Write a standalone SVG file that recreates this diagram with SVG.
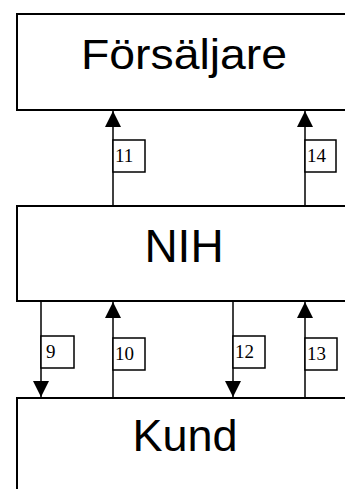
<svg xmlns="http://www.w3.org/2000/svg" width="345" height="489" viewBox="0 0 345 489">
<defs>
<style>
.box{fill:#fff;stroke:#000;stroke-width:2}
.title{font-family:"Liberation Sans",Arial,sans-serif;text-anchor:middle;fill:#000}
.conn{stroke:#000;stroke-width:1.5;fill:none}
.lbl{fill:#fff;stroke:#000;stroke-width:1.5}
.num{font-family:"Liberation Serif","Times New Roman",serif;font-size:19px;fill:#000}
</style>
<marker id="ah" markerWidth="16" markerHeight="16" refX="16" refY="8" orient="auto" markerUnits="userSpaceOnUse" viewBox="0 0 16 16">
<path d="M0,0 L16,8 L0,16 Z" fill="#000"/>
</marker>
</defs>
<rect width="345" height="489" fill="#fff"/>
<g id="forsaljare">
<rect class="box" x="17" y="14" width="340" height="96"/>
<text class="title" x="184" y="69" font-size="42" textLength="206" lengthAdjust="spacingAndGlyphs">Försäljare</text>
</g>
<g id="nih">
<rect class="box" x="17" y="206" width="340" height="95"/>
<text class="title" x="184" y="262" font-size="46">NIH</text>
</g>
<g id="kund">
<rect class="box" x="17" y="398" width="340" height="100"/>
<text class="title" x="185" y="451" font-size="45">Kund</text>
</g>
<g id="connectors">
<line class="conn" x1="113" y1="206" x2="113" y2="111" marker-end="url(#ah)"/>
<line class="conn" x1="305" y1="206" x2="305" y2="111" marker-end="url(#ah)"/>
<line class="conn" x1="41" y1="301" x2="41" y2="397" marker-end="url(#ah)"/>
<line class="conn" x1="113" y1="398" x2="113" y2="302" marker-end="url(#ah)"/>
<line class="conn" x1="233" y1="301" x2="233" y2="397" marker-end="url(#ah)"/>
<line class="conn" x1="305" y1="398" x2="305" y2="302" marker-end="url(#ah)"/>
</g>
<g id="labels">
<rect class="lbl" x="113" y="140" width="32" height="32"/>
<text class="num" x="115" y="162">11</text>
<rect class="lbl" x="305" y="140" width="31" height="32"/>
<text class="num" x="307" y="162">14</text>
<rect class="lbl" x="41" y="336" width="33" height="32"/>
<text class="num" x="46" y="358">9</text>
<rect class="lbl" x="113" y="338" width="32" height="32"/>
<text class="num" x="115" y="360">10</text>
<rect class="lbl" x="233" y="336" width="32" height="32"/>
<text class="num" x="235" y="358">12</text>
<rect class="lbl" x="305" y="338" width="32" height="32"/>
<text class="num" x="307" y="360">13</text>
</g>
</svg>
